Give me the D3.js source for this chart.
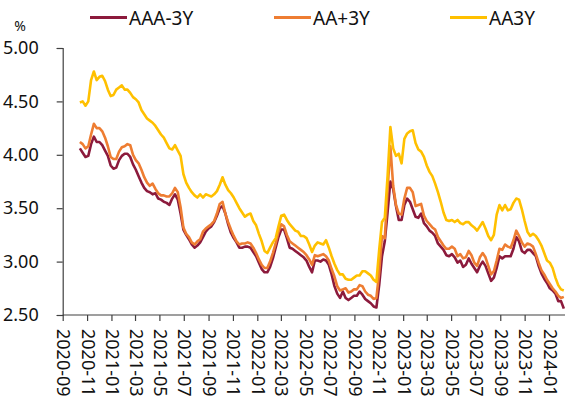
<!DOCTYPE html>
<html>
<head>
<meta charset="utf-8">
<script src="https://cdn.jsdelivr.net/npm/d3@7"></script>
<style>
  html, body { margin: 0; padding: 0; background: #fff; }
  svg { display: block; font-family: "Noto Sans", "Open Sans", sans-serif; }
</style>
</head>
<body>
<svg id="chart" width="565" height="403"></svg>
<script>
// Weekly observations of 3-year bond yields (%), starting 2020-10-14
const startDate = "2020-10-14";
const stepDays = 7;

const seriesNames = ["AAA-3Y", "AA+3Y", "AA3Y"];
const seriesColors = ["#8C1A3C", "#EE7D32", "#FFC000"];

const aaa3y = [
  4.06, 4.02, 3.98, 3.99, 4.10, 4.17, 4.12, 4.12, 4.09, 4.04,
  3.99, 3.90, 3.87, 3.88, 3.95, 3.99, 4.01, 4.01, 3.98, 3.91,
  3.86, 3.80, 3.74, 3.69, 3.66, 3.65, 3.63, 3.64, 3.59, 3.58,
  3.56, 3.55, 3.53, 3.59, 3.63, 3.58, 3.45, 3.30, 3.25, 3.21,
  3.16, 3.13, 3.15, 3.18, 3.23, 3.28, 3.31, 3.33, 3.37, 3.43,
  3.50, 3.52, 3.45, 3.35, 3.27, 3.22, 3.18, 3.13, 3.13, 3.14,
  3.14, 3.13, 3.09, 3.05, 2.99, 2.93, 2.90, 2.90, 2.95, 3.03,
  3.13, 3.23, 3.30, 3.30, 3.22, 3.13, 3.12, 3.10, 3.08, 3.06,
  3.04, 3.01, 2.95, 2.90, 3.01, 3.01, 3.00, 3.02, 3.01, 2.97,
  2.88, 2.77, 2.70, 2.66, 2.72, 2.66, 2.64, 2.66, 2.68, 2.68,
  2.72, 2.69, 2.65, 2.63, 2.61, 2.58, 2.57, 2.78, 3.05, 3.19,
  3.46, 3.75, 3.68, 3.52, 3.39, 3.39, 3.53, 3.59, 3.56, 3.49,
  3.42, 3.41, 3.45, 3.36, 3.33, 3.29, 3.27, 3.24, 3.17, 3.14,
  3.11, 3.06, 3.05, 3.07, 3.04, 2.99, 3.01, 2.95, 2.97, 3.03,
  2.98, 2.94, 2.90, 2.96, 3.00, 2.96, 2.89, 2.82, 2.85, 2.94,
  3.05, 3.03, 3.05, 3.05, 3.05, 3.12, 3.23, 3.19, 3.10, 3.08,
  3.11, 3.11, 3.08, 3.05, 2.96, 2.89, 2.84, 2.80, 2.75, 2.73,
  2.70, 2.63, 2.63, 2.56
];

const aaPlus3y = [
  4.12, 4.10, 4.06, 4.08, 4.19, 4.29, 4.25, 4.25, 4.22, 4.16,
  4.08, 3.98, 3.96, 3.96, 4.03, 4.07, 4.08, 4.10, 4.09, 4.00,
  3.95, 3.92, 3.86, 3.79, 3.74, 3.71, 3.73, 3.68, 3.64, 3.62,
  3.62, 3.61, 3.61, 3.64, 3.69, 3.65, 3.51, 3.32, 3.26, 3.23,
  3.18, 3.16, 3.19, 3.21, 3.28, 3.31, 3.33, 3.35, 3.38, 3.45,
  3.54, 3.56, 3.45, 3.37, 3.30, 3.24, 3.19, 3.16, 3.17, 3.17,
  3.18, 3.17, 3.13, 3.08, 3.02, 2.97, 2.94, 2.94, 3.00, 3.08,
  3.17, 3.28, 3.35, 3.33, 3.25, 3.19, 3.17, 3.15, 3.13, 3.11,
  3.09, 3.06, 3.02, 2.97, 3.06, 3.05, 3.06, 3.07, 3.05, 3.01,
  2.93, 2.86, 2.77, 2.73, 2.74, 2.75, 2.71, 2.72, 2.74, 2.74,
  2.78, 2.77, 2.72, 2.69, 2.68, 2.65, 2.66, 2.90, 3.24, 3.22,
  3.67, 4.08, 3.71, 3.53, 3.45, 3.44, 3.59, 3.69, 3.69, 3.65,
  3.52, 3.53, 3.54, 3.43, 3.38, 3.35, 3.32, 3.30, 3.23, 3.19,
  3.15, 3.12, 3.12, 3.14, 3.12, 3.05, 3.07, 3.03, 3.04, 3.10,
  3.06, 2.99, 2.96, 3.04, 3.08, 3.04, 2.96, 2.88, 2.91, 3.01,
  3.12, 3.11, 3.16, 3.14, 3.13, 3.20, 3.29, 3.24, 3.18, 3.14,
  3.17, 3.16, 3.14, 3.07, 2.99, 2.92, 2.88, 2.83, 2.79, 2.75,
  2.72, 2.68, 2.66, 2.67
];

const aa3y = [
  4.49, 4.50, 4.46, 4.50, 4.70, 4.78, 4.70, 4.73, 4.74, 4.69,
  4.61, 4.55, 4.56, 4.61, 4.63, 4.65, 4.61, 4.61, 4.58, 4.54,
  4.52, 4.49, 4.42, 4.38, 4.34, 4.32, 4.30, 4.27, 4.23, 4.19,
  4.16, 4.11, 4.06, 4.05, 4.09, 4.04, 3.99, 3.82, 3.74, 3.69,
  3.65, 3.62, 3.60, 3.63, 3.60, 3.63, 3.62, 3.61, 3.63, 3.66,
  3.72, 3.79, 3.72, 3.67, 3.64, 3.60, 3.55, 3.50, 3.46, 3.42,
  3.44, 3.45, 3.38, 3.34, 3.26, 3.19, 3.10, 3.08, 3.13, 3.18,
  3.22, 3.33, 3.43, 3.44, 3.39, 3.35, 3.32, 3.29, 3.28, 3.24,
  3.24, 3.22, 3.16, 3.09, 3.15, 3.18, 3.17, 3.16, 3.20, 3.13,
  3.05, 2.98, 2.92, 2.88, 2.88, 2.84, 2.83, 2.83, 2.85, 2.87,
  2.87, 2.91, 2.91, 2.89, 2.87, 2.83, 2.81, 3.11, 3.37, 3.41,
  3.80, 4.26, 4.06, 3.99, 4.01, 3.92, 4.15, 4.20, 4.22, 4.23,
  4.11, 4.05, 4.03, 3.98, 3.90, 3.84, 3.80, 3.73, 3.65, 3.56,
  3.46, 3.39, 3.38, 3.39, 3.37, 3.39, 3.36, 3.35, 3.37, 3.37,
  3.34, 3.32, 3.29, 3.33, 3.37, 3.31, 3.24, 3.20, 3.25, 3.44,
  3.53, 3.48, 3.53, 3.48, 3.49, 3.55, 3.59, 3.58, 3.49, 3.38,
  3.28, 3.24, 3.26, 3.24, 3.20, 3.15, 3.08, 3.01, 2.99, 2.94,
  2.85, 2.78, 2.74, 2.73
];

const yTicks = [2.5, 3.0, 3.5, 4.0, 4.5, 5.0];
const xTickLabels = [
  "2020-09", "2020-11", "2021-01", "2021-03", "2021-05", "2021-07",
  "2021-09", "2021-11", "2022-01", "2022-03", "2022-05", "2022-07",
  "2022-09", "2022-11", "2023-01", "2023-03", "2023-05", "2023-07",
  "2023-09", "2023-11", "2024-01"
];
const xDomain = ["2020-09-01", "2024-02-10"];

// ---- build ----
const parseDay = d3.utcParse("%Y-%m-%d");
const parseMonth = d3.utcParse("%Y-%m");
const start = parseDay(startDate);
const dates = aaa3y.map((_, i) => d3.utcDay.offset(start, i * stepDays));
const allSeries = [aaa3y, aaPlus3y, aa3y];

const svg = d3.select("#chart");
const plot = { left: 62.7, right: 565, top: 48, bottom: 315 };

const x = d3.scaleUtc()
  .domain(xDomain.map(parseDay))
  .range([plot.left, plot.right]);
const y = d3.scaleLinear()
  .domain([2.5, 5.0])
  .range([plot.bottom, plot.top]);

// y axis
const yAxis = svg.append("g")
  .attr("transform", `translate(${plot.left},0)`)
  .call(d3.axisLeft(y).tickValues(yTicks).tickFormat(d3.format(".2f")).tickSize(6).tickPadding(18));
yAxis.select(".domain").attr("stroke", "#404040").attr("stroke-width", 1.2);
yAxis.selectAll(".tick line").attr("stroke", "#404040").attr("stroke-width", 1.2);
yAxis.selectAll(".tick text")
  .attr("font-size", 18)
  .attr("fill", "#111")
  .attr("font-family", "Noto Sans, sans-serif");

// unit label above the y axis
svg.append("text")
  .attr("x", 20).attr("y", 31)
  .attr("text-anchor", "middle")
  .attr("font-size", 14)
  .attr("fill", "#111")
  .text("%");

// x axis
const xTicks = xTickLabels.map(parseMonth);
const xAxis = svg.append("g")
  .attr("transform", `translate(0,${plot.bottom})`)
  .call(d3.axisBottom(x).tickValues(xTicks).tickSize(6).tickFormat(d3.utcFormat("%Y-%m")));
xAxis.select(".domain").attr("stroke", "#404040").attr("stroke-width", 1.2)
  .attr("d", `M${plot.left},0H${plot.right}`);
xAxis.selectAll(".tick line").attr("stroke", "#404040").attr("stroke-width", 1.2);
xAxis.selectAll(".tick text")
  .attr("font-size", 18)
  .attr("fill", "#111")
  .attr("font-family", "Noto Sans, sans-serif")
  .attr("text-anchor", "start")
  .attr("dy", null)
  .attr("y", 0)
  .attr("dominant-baseline", "central")
  .attr("transform", "translate(1,14) rotate(90)");

// lines
const line = d3.line()
  .x((d, i) => x(dates[i]))
  .y(d => y(d))
  .curve(d3.curveLinear);

svg.append("g")
  .selectAll("path")
  .data(allSeries)
  .join("path")
  .attr("fill", "none")
  .attr("stroke", (d, i) => seriesColors[i])
  .attr("stroke-width", 2.6)
  .attr("stroke-linejoin", "round")
  .attr("d", line);

// legend
const legendX = [90, 274, 450];
const legend = svg.append("g");
seriesNames.forEach((name, i) => {
  const g = legend.append("g").attr("transform", `translate(${legendX[i]},17.5)`);
  g.append("line")
    .attr("x1", 0).attr("x2", 37).attr("y1", 0).attr("y2", 0)
    .attr("stroke", seriesColors[i]).attr("stroke-width", 3);
  g.append("text")
    .attr("x", 39).attr("y", 0)
    .attr("dominant-baseline", "central")
    .attr("font-size", 19)
    .attr("fill", "#111")
    .text(name);
});
</script>
</body>
</html>
